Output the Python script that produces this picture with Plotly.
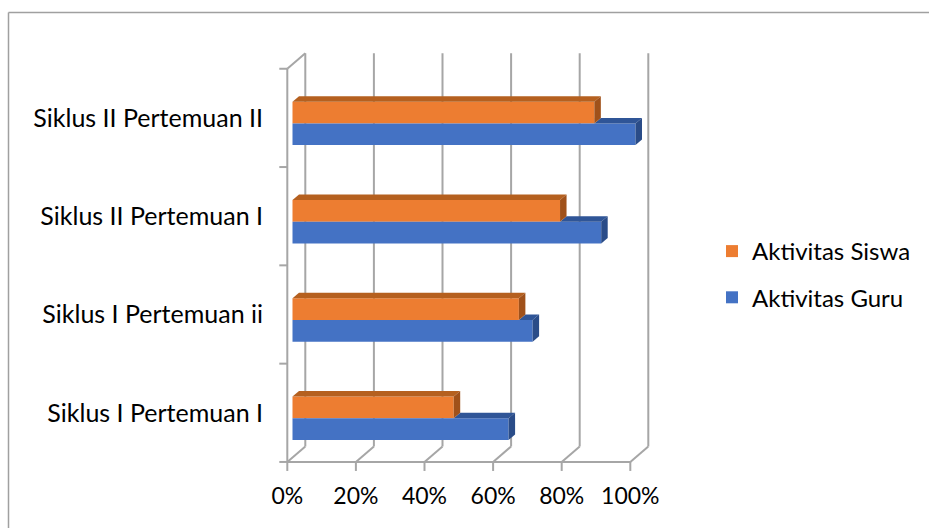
import plotly.graph_objects as go

# ---------------- data ----------------
categories = ["Siklus I Pertemuan I", "Siklus I Pertemuan ii",
              "Siklus II Pertemuan I", "Siklus II Pertemuan II"]
guru = [0.63, 0.70, 0.90, 1.00]
siswa = [0.47, 0.66, 0.78, 0.88]
x_ticks = [0, 0.2, 0.4, 0.6, 0.8, 1.0]
x_tick_labels = ["0%", "20%", "40%", "60%", "80%", "100%"]
name_guru = "Aktivitas Guru"
name_siswa = "Aktivitas Siswa"

# ---------------- layout geometry ----------------
W, H = 929, 528
L, R, T, B = 270, 660, 45, 480
X0PX = 292.5      # pixel of value 0 on bar front face
PPX = 343.0       # pixels per unit (x)
PPY = 98.3        # pixels per category (y)
Y0PX = 418.3      # pixel of first category bar centre

xmin = (L - X0PX) / PPX
xmax = (R - X0PX) / PPX
ymin = -(B - Y0PX) / PPY
ymax = (Y0PX - T) / PPY


def dx(px):
    return px / PPX


def dy_up(px):
    return px / PPY


BAR_W = 21.7 / PPY
DEPTH_X = dx(6.5)
DEPTH_Y = dy_up(5.5)

FRONT_DX = dx(-5.2)          # front plane relative to bars
FRONT_DY = dy_up(5.5)
BACK_DX = FRONT_DX + dx(18)

n = len(categories)
front_bottom = -0.5 + FRONT_DY
front_top = n - 0.5 + FRONT_DY
back_bottom = front_bottom + dy_up(15.5)
back_top = front_top + dy_up(15.5)

GRID = "#a6a6a6"
GW = 2

C_BLUE, C_BLUE_TOP, C_BLUE_SIDE = "#4472C4", "#2F5597", "#2A4C88"
C_OR, C_OR_TOP, C_OR_SIDE = "#ED7D31", "#B5601F", "#A0511A"

shapes = []


def line(x0, y0, x1, y1, layer="below"):
    shapes.append(dict(type="line", xref="x", yref="y", x0=x0, y0=y0, x1=x1, y1=y1,
                       line=dict(color=GRID, width=GW), layer=layer))


# back wall gridlines, floor diagonals, x tick marks
for v in x_ticks:
    line(v + BACK_DX, back_bottom, v + BACK_DX, back_top)
    line(v + FRONT_DX, front_bottom, v + BACK_DX, back_bottom)
    line(v + FRONT_DX, front_bottom, v + FRONT_DX, front_bottom - dy_up(9))
# front floor line
line(x_ticks[0] + FRONT_DX, front_bottom, x_ticks[-1] + FRONT_DX, front_bottom)
# left front vertical and top diagonal
line(FRONT_DX, front_bottom, FRONT_DX, front_top)
line(FRONT_DX, front_top, BACK_DX, back_top)
# category tick marks
for k in range(n + 1):
    yb = k - 0.5 + FRONT_DY
    line(FRONT_DX - dx(8), yb, FRONT_DX, yb)


def poly(pts, color):
    path = "M " + " L ".join(f"{x},{y}" for x, y in pts) + " Z"
    shapes.append(dict(type="path", xref="x", yref="y", path=path,
                       fillcolor=color, line=dict(width=0), layer="above"))


# 3D faces of bars
for i in range(n):
    xb, xo = guru[i], siswa[i]
    yb0, yb1 = i - BAR_W, i
    yo0, yo1 = i, i + BAR_W
    if xb > xo:
        poly([(xo, yb1), (xb, yb1), (xb + DEPTH_X, yb1 + DEPTH_Y), (xo + DEPTH_X, yb1 + DEPTH_Y)], C_BLUE_TOP)
    poly([(xb, yb0), (xb, yb1), (xb + DEPTH_X, yb1 + DEPTH_Y), (xb + DEPTH_X, yb0 + DEPTH_Y)], C_BLUE_SIDE)
    poly([(0, yo1), (xo, yo1), (xo + DEPTH_X, yo1 + DEPTH_Y), (DEPTH_X, yo1 + DEPTH_Y)], C_OR_TOP)
    poly([(xo, yo0), (xo, yo1), (xo + DEPTH_X, yo1 + DEPTH_Y), (xo + DEPTH_X, yo0 + DEPTH_Y)], C_OR_SIDE)


# outer frame (paper coords)
def xp(px):
    return (px - L) / (R - L)


def yp(py):
    return (B - py) / (B - T)


shapes.append(dict(type="line", xref="paper", yref="paper", x0=xp(8.5), y0=yp(12.5), x1=xp(940), y1=yp(12.5),
                   line=dict(color="#a0a0a0", width=1.5)))
shapes.append(dict(type="line", xref="paper", yref="paper", x0=xp(8.5), y0=yp(12.5), x1=xp(8.5), y1=yp(540),
                   line=dict(color="#a0a0a0", width=1.5)))

ypos = list(range(n))

fig = go.Figure()
fig.add_trace(go.Bar(orientation="h", y=ypos, x=siswa, name=name_siswa, width=BAR_W, offset=0,
                     marker=dict(color=C_OR, line=dict(width=0)), legendgroup="s", legendrank=1))
fig.add_trace(go.Bar(orientation="h", y=ypos, x=guru, name=name_guru, width=BAR_W, offset=-BAR_W,
                     marker=dict(color=C_BLUE, line=dict(width=0)), legendgroup="g", legendrank=2))

FONT = "Lato"
fig.update_layout(
    width=W, height=H, autosize=False,
    margin=dict(l=L, r=W - R, t=T, b=H - B, pad=0),
    paper_bgcolor="white", plot_bgcolor="white",
    barmode="overlay",
    font=dict(family=FONT, size=24, color="#000000"),
    xaxis=dict(range=[xmin, xmax], showgrid=False, zeroline=False, showline=False,
               tickmode="array", tickvals=[v + FRONT_DX for v in x_ticks], ticktext=x_tick_labels,
               ticks="", automargin=False, tickfont=dict(size=23)),
    yaxis=dict(range=[ymin, ymax], showgrid=False, zeroline=False, showline=False,
               tickmode="array", tickvals=[i + FRONT_DY for i in ypos], ticktext=categories,
               ticks="", automargin=False, tickfont=dict(size=25), ticklabelstandoff=6),
    legend=dict(x=xp(712), y=yp(229), xanchor="left", yanchor="top",
                traceorder="grouped", tracegroupgap=12,
                font=dict(size=24), bgcolor="rgba(0,0,0,0)"),
    shapes=shapes,
    showlegend=True,
)

fig.write_html("out.html")
